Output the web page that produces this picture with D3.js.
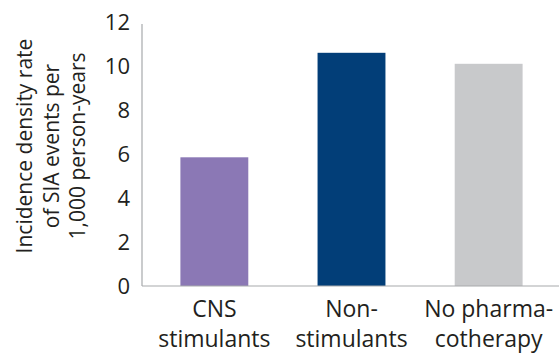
<!DOCTYPE html>
<html>
<head>
<meta charset="utf-8">
<script src="https://cdn.jsdelivr.net/npm/d3@7"></script>
<style>
  body { margin: 0; background: #fff; }
  text { font-family: "Open Sans", "Noto Sans", sans-serif; fill: #231f20; }
</style>
</head>
<body>
<div id="chart"></div>
<script>
// Chart data
var categories = ["CNS stimulants", "Non-stimulants", "No pharmacotherapy"];
var labelLines = [["CNS", "stimulants"], ["Non-", "stimulants"], ["No pharma-", "cotherapy"]];
var rates = [5.85, 10.6, 10.1];
var barColors = ["#8b78b5", "#023e78", "#c8c9cb"];
var yTicks = [0, 2, 4, 6, 8, 10, 12];
var yTitle = ["Incidence density rate", "of SIA events per", "1,000 person-years"];

var svgWidth = 559;
var svgHeight = 356;

var svg = d3.select("#chart")
  .append("svg")
  .attr("width", svgWidth)
  .attr("height", svgHeight);

var axisX = 142;
var baseY = 286;

var xScale = d3.scaleBand()
  .domain(categories)
  .range([axisX, 561])
  .paddingInner(0.505)
  .paddingOuter(0.28);

var yScale = d3.scaleLinear()
  .domain([0, 12])
  .range([baseY, 22]);

// bars
svg.selectAll("rect.bar")
  .data(categories)
  .enter()
  .append("rect")
  .attr("class", "bar")
  .attr("x", d => xScale(d))
  .attr("width", xScale.bandwidth())
  .attr("y", (d, i) => yScale(rates[i]))
  .attr("height", (d, i) => baseY - yScale(rates[i]))
  .attr("fill", (d, i) => barColors[i]);

// axis lines
svg.append("line")
  .attr("x1", axisX).attr("x2", axisX)
  .attr("y1", yScale(12) + 2).attr("y2", baseY)
  .attr("stroke", "#a7a9ac").attr("stroke-width", 1.2);

svg.append("line")
  .attr("x1", axisX).attr("x2", svgWidth)
  .attr("y1", baseY).attr("y2", baseY)
  .attr("stroke", "#a7a9ac").attr("stroke-width", 1.2);

// y tick labels
svg.selectAll("text.ytick")
  .data(yTicks)
  .enter()
  .append("text")
  .attr("class", "ytick")
  .attr("x", 130)
  .attr("y", d => yScale(d))
  .attr("dy", "0.36em")
  .attr("text-anchor", "end")
  .attr("font-size", 22)
  .text(d => d);

// x labels
var xLabels = svg.selectAll("g.xlabel")
  .data(categories)
  .enter()
  .append("g")
  .attr("class", "xlabel")
  .attr("transform", d => `translate(${xScale(d) + xScale.bandwidth() / 2}, 0)`);

xLabels.each(function(d, i) {
  var g = d3.select(this);
  labelLines[i].forEach(function(line, j) {
    g.append("text")
      .attr("x", 0)
      .attr("y", 317 + j * 30)
      .attr("text-anchor", "middle")
      .attr("font-size", 23)
      .text(line);
  });
});

// y axis title
var titleGroup = svg.append("g")
  .attr("transform", "translate(0, 146) rotate(-90)");

yTitle.forEach(function(line, j) {
  titleGroup.append("text")
    .attr("x", 0)
    .attr("y", 32 + j * 26.5)
    .attr("text-anchor", "middle")
    .attr("font-size", 21)
    .text(line);
});
</script>
</body>
</html>
